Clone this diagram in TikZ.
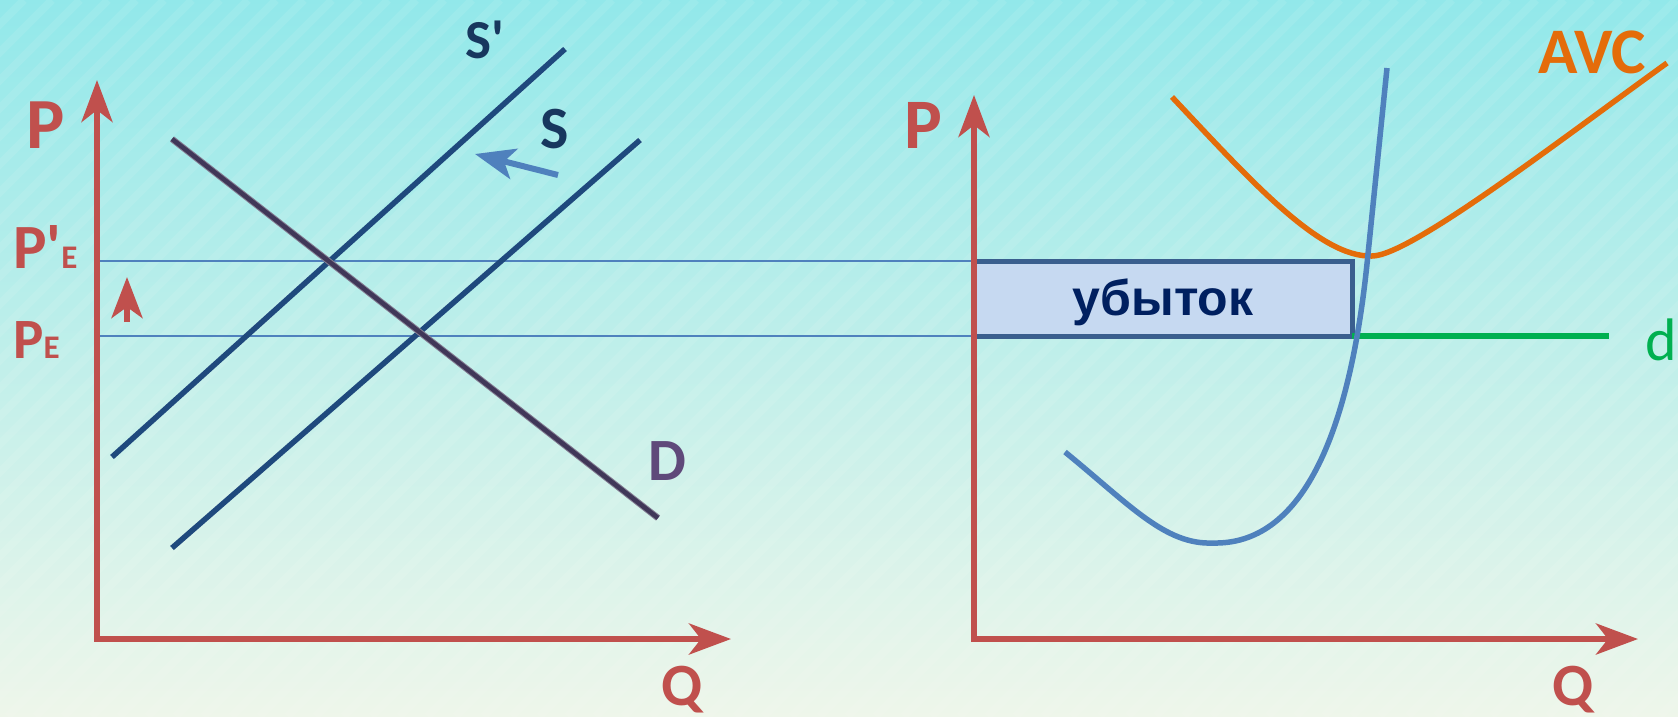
\documentclass[tikz,border=0pt]{standalone}
\usepackage{fontspec}
\setmainfont{Carlito}
\newfontfamily\rufont{Liberation Sans}
\usetikzlibrary{arrows.meta}
\definecolor{axred}{RGB}{192,80,77}
\definecolor{navy}{RGB}{31,73,125}
\definecolor{navytxt}{RGB}{23,55,94}
\definecolor{dline}{RGB}{64,55,88}
\definecolor{dtxt}{RGB}{95,73,122}
\definecolor{midblue}{RGB}{79,129,189}
\definecolor{boxedge}{RGB}{58,95,142}
\definecolor{boxfill}{RGB}{198,217,241}
\definecolor{boxtxt}{RGB}{0,32,96}
\definecolor{dgreen}{RGB}{0,176,80}
\definecolor{avcor}{RGB}{228,108,10}
\definecolor{bgtop}{RGB}{146,232,234}
\definecolor{bgmid}{RGB}{200,250,250}
\definecolor{bgbot}{RGB}{238,246,234}
\tikzset{
  axis/.style={draw=axred, line width=6pt, line join=miter,
    {Stealth[length=42pt,width=31pt,inset=12pt]}-{Stealth[length=42pt,width=31pt,inset=12pt]}},
  guide/.style={draw=midblue, line width=1.6pt},
  curve/.style={line width=5.5pt},
  lab/.style={inner sep=0pt, font=\bfseries},
}
\newcommand{\fs}[1]{\fontsize{#1}{#1}\selectfont}
\begin{document}
\begin{tikzpicture}[x=1pt,y=-1pt]
\useasboundingbox (0,0) rectangle (1678,716);
\shade[top color=bgtop, middle color=bgmid, bottom color=bgbot] (0,0) rectangle (1678,716);
\begin{scope}
\clip (0,0) rectangle (1678,716);
\foreach \i in {-720,-692,...,1700}
  \draw[white, opacity=0.09, line width=8pt] (\i,716) -- (\i+716,0);
\end{scope}

% coordinates
\coordinate (Ltip) at (97,80);
\coordinate (LQtip) at (731,639);
\coordinate (Rtip) at (974,95);
\coordinate (RQtip) at (1638,639);
\coordinate (pe1) at (97,261);
\coordinate (pe0) at (97,336);

% loss box
\node[draw=boxedge, fill=boxfill, line width=5pt, minimum width=378pt, minimum height=75pt,
      inner sep=0pt, outer sep=0pt, text=boxtxt, font=\rufont\bfseries\fs{50}, text height=38pt, text depth=5pt]
      (loss) at (1163,298.5) {убыток};

% guide lines
\draw[guide] (pe1) -- (loss.west |- pe1);
\draw[guide] (pe0) -- (loss.west |- pe0);

% axes
\draw[axis] (Ltip) |- (LQtip);
\draw[axis] (Rtip) |- (RQtip);

% left curves
\coordinate (Sp0) at (112,457); \coordinate (Sp1) at (565,49);
\coordinate (S0) at (172,548); \coordinate (S1) at (640,140);
\coordinate (D0) at (172,139); \coordinate (D1) at (658,518);
\draw[curve, navy] (Sp0) -- (Sp1);
\draw[curve, navy] (S0) -- (S1);
\draw[line width=6.5pt, dline!65!white] (D0) -- (D1);
\draw[line width=4.5pt, dline] (D0) -- (D1);

% shift arrows
\coordinate (ba0) at (558,175); \coordinate (ba1) at (475,154);
\draw[midblue, line width=6pt, -{Stealth[length=40pt,width=31pt,inset=10pt]}] (ba0) -- (ba1);
\coordinate (ra0) at (127,322); \coordinate (ra1) at (127,277);
\draw[axred, line width=6pt, -{Stealth[length=41pt,width=31pt,inset=11pt]}] (ra0) -- (ra1);

% right curves
\coordinate (d0) at (loss.east |- pe0);
\coordinate (d1) at (1609,336);
\draw[curve, dgreen, line width=6pt] (d0) -- (d1);
\draw[curve, avcor] (1172,97) .. controls (1250,180) and (1320,258) .. (1372,256)
  .. controls (1410,256) and (1560,140) .. (1667,63);
\draw[curve, midblue] (1065,452) .. controls (1130,505) and (1165,545) .. (1213,543)
  .. controls (1300,545) and (1350,440) .. (1368,254) -- (1387,68);

% labels
\node[lab, text=axred, anchor=base] (Pl) at (46,148) {\fs{72}P};
\node[lab, text=axred, anchor=base] (Pr) at (923,148) {\fs{71}P};
\node[lab, text=axred, anchor=base west] (Ppe) at (13,268) {\fs{63}P\textquotesingle\fs{33}E};
\node[lab, text=axred, anchor=base west] (Pe) at (13,358) {\fs{57}P\fs{33}E};
\node[lab, text=axred, anchor=base] (Ql) at (682,705) {\fs{60}Q};
\node[lab, text=axred, anchor=base] (Qr) at (1573,705) {\fs{60}Q};
\node[lab, text=navytxt, anchor=base west] (Spl) at (465,58) {\fs{55}S\textquotesingle};
\node[lab, text=navytxt, anchor=base west] (Sl) at (540,148) {\fs{60}S};
\node[lab, text=dtxt, anchor=base west] (Dl) at (648,480) {\fs{60}D};
\node[lab, text=avcor, anchor=base west] (AVC) at (1538,73) {\fs{65}AVC};
\node[inner sep=0pt, text=dgreen, anchor=base west] (dl) at (1645,360) {\fs{60}d};
\end{tikzpicture}
\end{document}
